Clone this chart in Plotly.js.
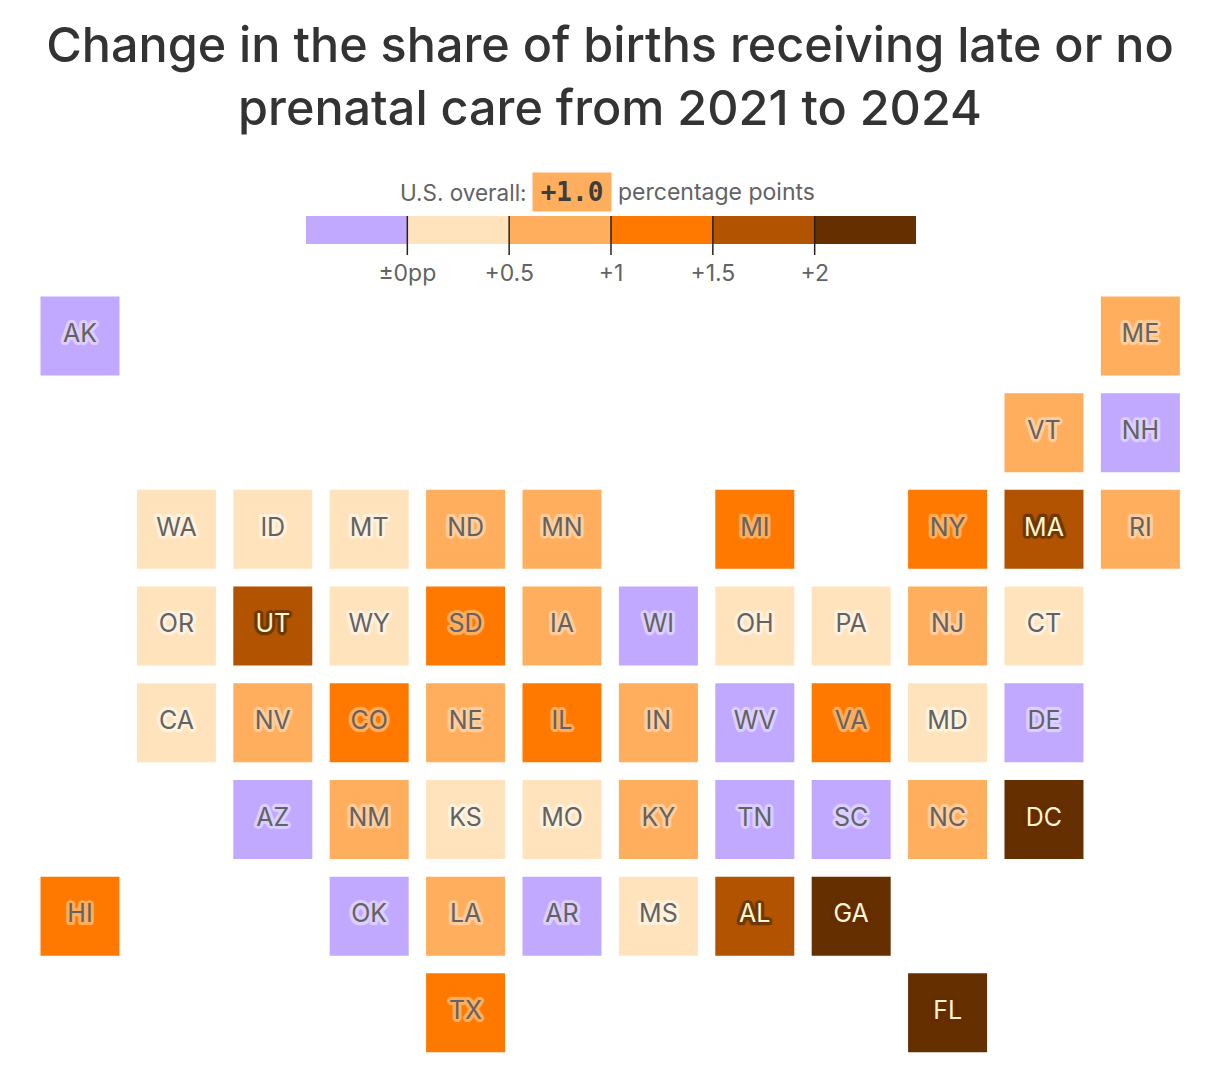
<!DOCTYPE html>
<html><head><meta charset="utf-8">
<script src="https://cdn.plot.ly/plotly-3.0.1.min.js"></script>
<style>html,body{margin:0;padding:0;background:#fff}</style></head>
<body><div id="chart" style="width:1220px;height:1082px"></div>
<script>
const states=["AK","ME","VT","NH","WA","ID","MT","ND","MN","MI","NY","MA","RI","OR","UT","WY","SD","IA","WI","OH","PA","NJ","CT","CA","NV","CO","NE","IL","IN","WV","VA","MD","DE","AZ","NM","KS","MO","KY","TN","SC","NC","DC","HI","OK","LA","AR","MS","AL","GA","TX","FL"];
const cols=[0,11,10,11,1,2,3,4,5,7,9,10,11,1,2,3,4,5,6,7,8,9,10,1,2,3,4,5,6,7,8,9,10,2,3,4,5,6,7,8,9,10,0,3,4,5,6,7,8,4,9];
const rows=[0,0,1,1,2,2,2,2,2,2,2,2,2,3,3,3,3,3,3,3,3,3,3,4,4,4,4,4,4,4,4,4,4,5,5,5,5,5,5,5,5,5,6,6,6,6,6,6,6,7,7];
const values=[-0.25,0.75,0.75,-0.25,0.25,0.25,0.25,0.75,0.75,1.25,1.25,1.75,0.75,0.25,1.75,0.25,1.25,0.75,-0.25,0.25,0.25,0.75,0.25,0.25,0.75,1.25,0.75,1.25,0.75,-0.25,1.25,0.25,-0.25,-0.25,0.75,0.25,0.25,0.75,-0.25,-0.25,0.75,2.25,1.25,-0.25,0.75,-0.25,0.25,1.75,2.25,1.25,2.25];
const binEdges=[-0.5,0,0.5,1,1.5,2,2.5];
const binColors=["#c1a9ff","#ffe3bc","#ffae5e","#ff7900","#b15300","#662f00"];
const binText=["#636363","#636363","#636363","#636363","#fff6cf","#fff6cf"];
const binHalo=["#dccfff","#fff1dd","#ffcd9c","#ffae5e","#6f3a08","#662f00"];
const tickVals=[0,0.5,1,1.5,2];
const tickText=["±0pp","+0.5","+1","+1.5","+2"];
const titleText="Change in the share of births receiving late or no<br>prenatal care from 2021 to 2024";
const overall="+1.0";
const FONT='Inter, "Noto Sans", sans-serif';

function halo(c){const o=[];for(let a=0;a<16;a++){const t=a*Math.PI/8;o.push(`${(3*Math.cos(t)).toFixed(2)}px ${(3*Math.sin(t)).toFixed(2)}px 0.8px ${c}`);}return o.join(",");}

const traces=binColors.map((color,b)=>{
  const idx=states.map((_,i)=>i).filter(i=>values[i]>=binEdges[b]&&values[i]<binEdges[b+1]);
  return {type:"scatter",mode:"markers+text",xaxis:"x",yaxis:"y",
    x:idx.map(i=>cols[i]),y:idx.map(i=>rows[i]),text:idx.map(i=>states[i]),
    textposition:"middle center",
    textfont:{family:FONT,size:25,color:binText[b],shadow:halo(binHalo[b])},
    marker:{symbol:"square",size:79,color:color,line:{width:0}},
    cliponaxis:false,hoverinfo:"text"};
});
binColors.forEach((color,b)=>{
  traces.push({type:"bar",xaxis:"x2",yaxis:"y2",x:[binEdges[b+1]-binEdges[b]],y:[0],base:[binEdges[b]],
    orientation:"h",width:[1],marker:{color:color,line:{width:0}},hoverinfo:"skip"});
});

const layout={
  width:1220,height:1082,margin:{l:0,r:0,t:0,b:0,pad:0},
  paper_bgcolor:"#fff",plot_bgcolor:"rgba(0,0,0,0)",showlegend:false,barmode:"overlay",
  font:{family:FONT,color:"#636363"},
  title:{text:titleText,font:{family:FONT,size:48.5,color:"#333333",weight:500},x:0.5,xanchor:"center",xref:"paper",y:1-61.5/1082,yanchor:"top",yref:"paper"},
  xaxis:{domain:[0,1],range:[-0.83,11.826],visible:false,fixedrange:true},
  yaxis:{domain:[0,1],range:[7.715,-3.474],visible:false,fixedrange:true},
  xaxis2:{domain:[306/1220,916/1220],range:[-0.4975,2.4975],anchor:"y2",tickmode:"array",tickvals:tickVals,ticktext:tickText,
    ticks:"",ticklabelstandoff:13,showline:false,showgrid:false,zeroline:false,fixedrange:true,tickfont:{family:FONT,size:23,color:"#636363"}},
  yaxis2:{domain:[1-244/1082,1-216/1082],range:[-0.5,0.5],visible:false,fixedrange:true},
  shapes:tickVals.map(t=>({type:"line",xref:"x2",yref:"paper",x0:t,x1:t,y0:1-255/1082,y1:1-216/1082,line:{color:"#222",width:1.5},layer:"above"})),
  annotations:[
    {xref:"paper",yref:"paper",x:529/1220,y:1-192/1082,xanchor:"right",yanchor:"middle",showarrow:false,text:"U.S. overall:",font:{family:FONT,size:22.5,color:"#636363"}},
    {xref:"paper",yref:"paper",x:572/1220,y:1-192/1082,xanchor:"center",yanchor:"middle",showarrow:false,text:"<b>"+overall+"</b>",bgcolor:binColors[2],width:76,height:36,font:{family:'"DejaVu Sans Mono",monospace',size:26,color:"#3d3d3d"}},
    {xref:"paper",yref:"paper",x:616/1220,y:1-192/1082,xanchor:"left",yanchor:"middle",showarrow:false,text:"percentage points",font:{family:FONT,size:23,color:"#636363"}}
  ]
};
Plotly.newPlot("chart",traces,layout,{displayModeBar:false,responsive:false});
</script></body></html>
